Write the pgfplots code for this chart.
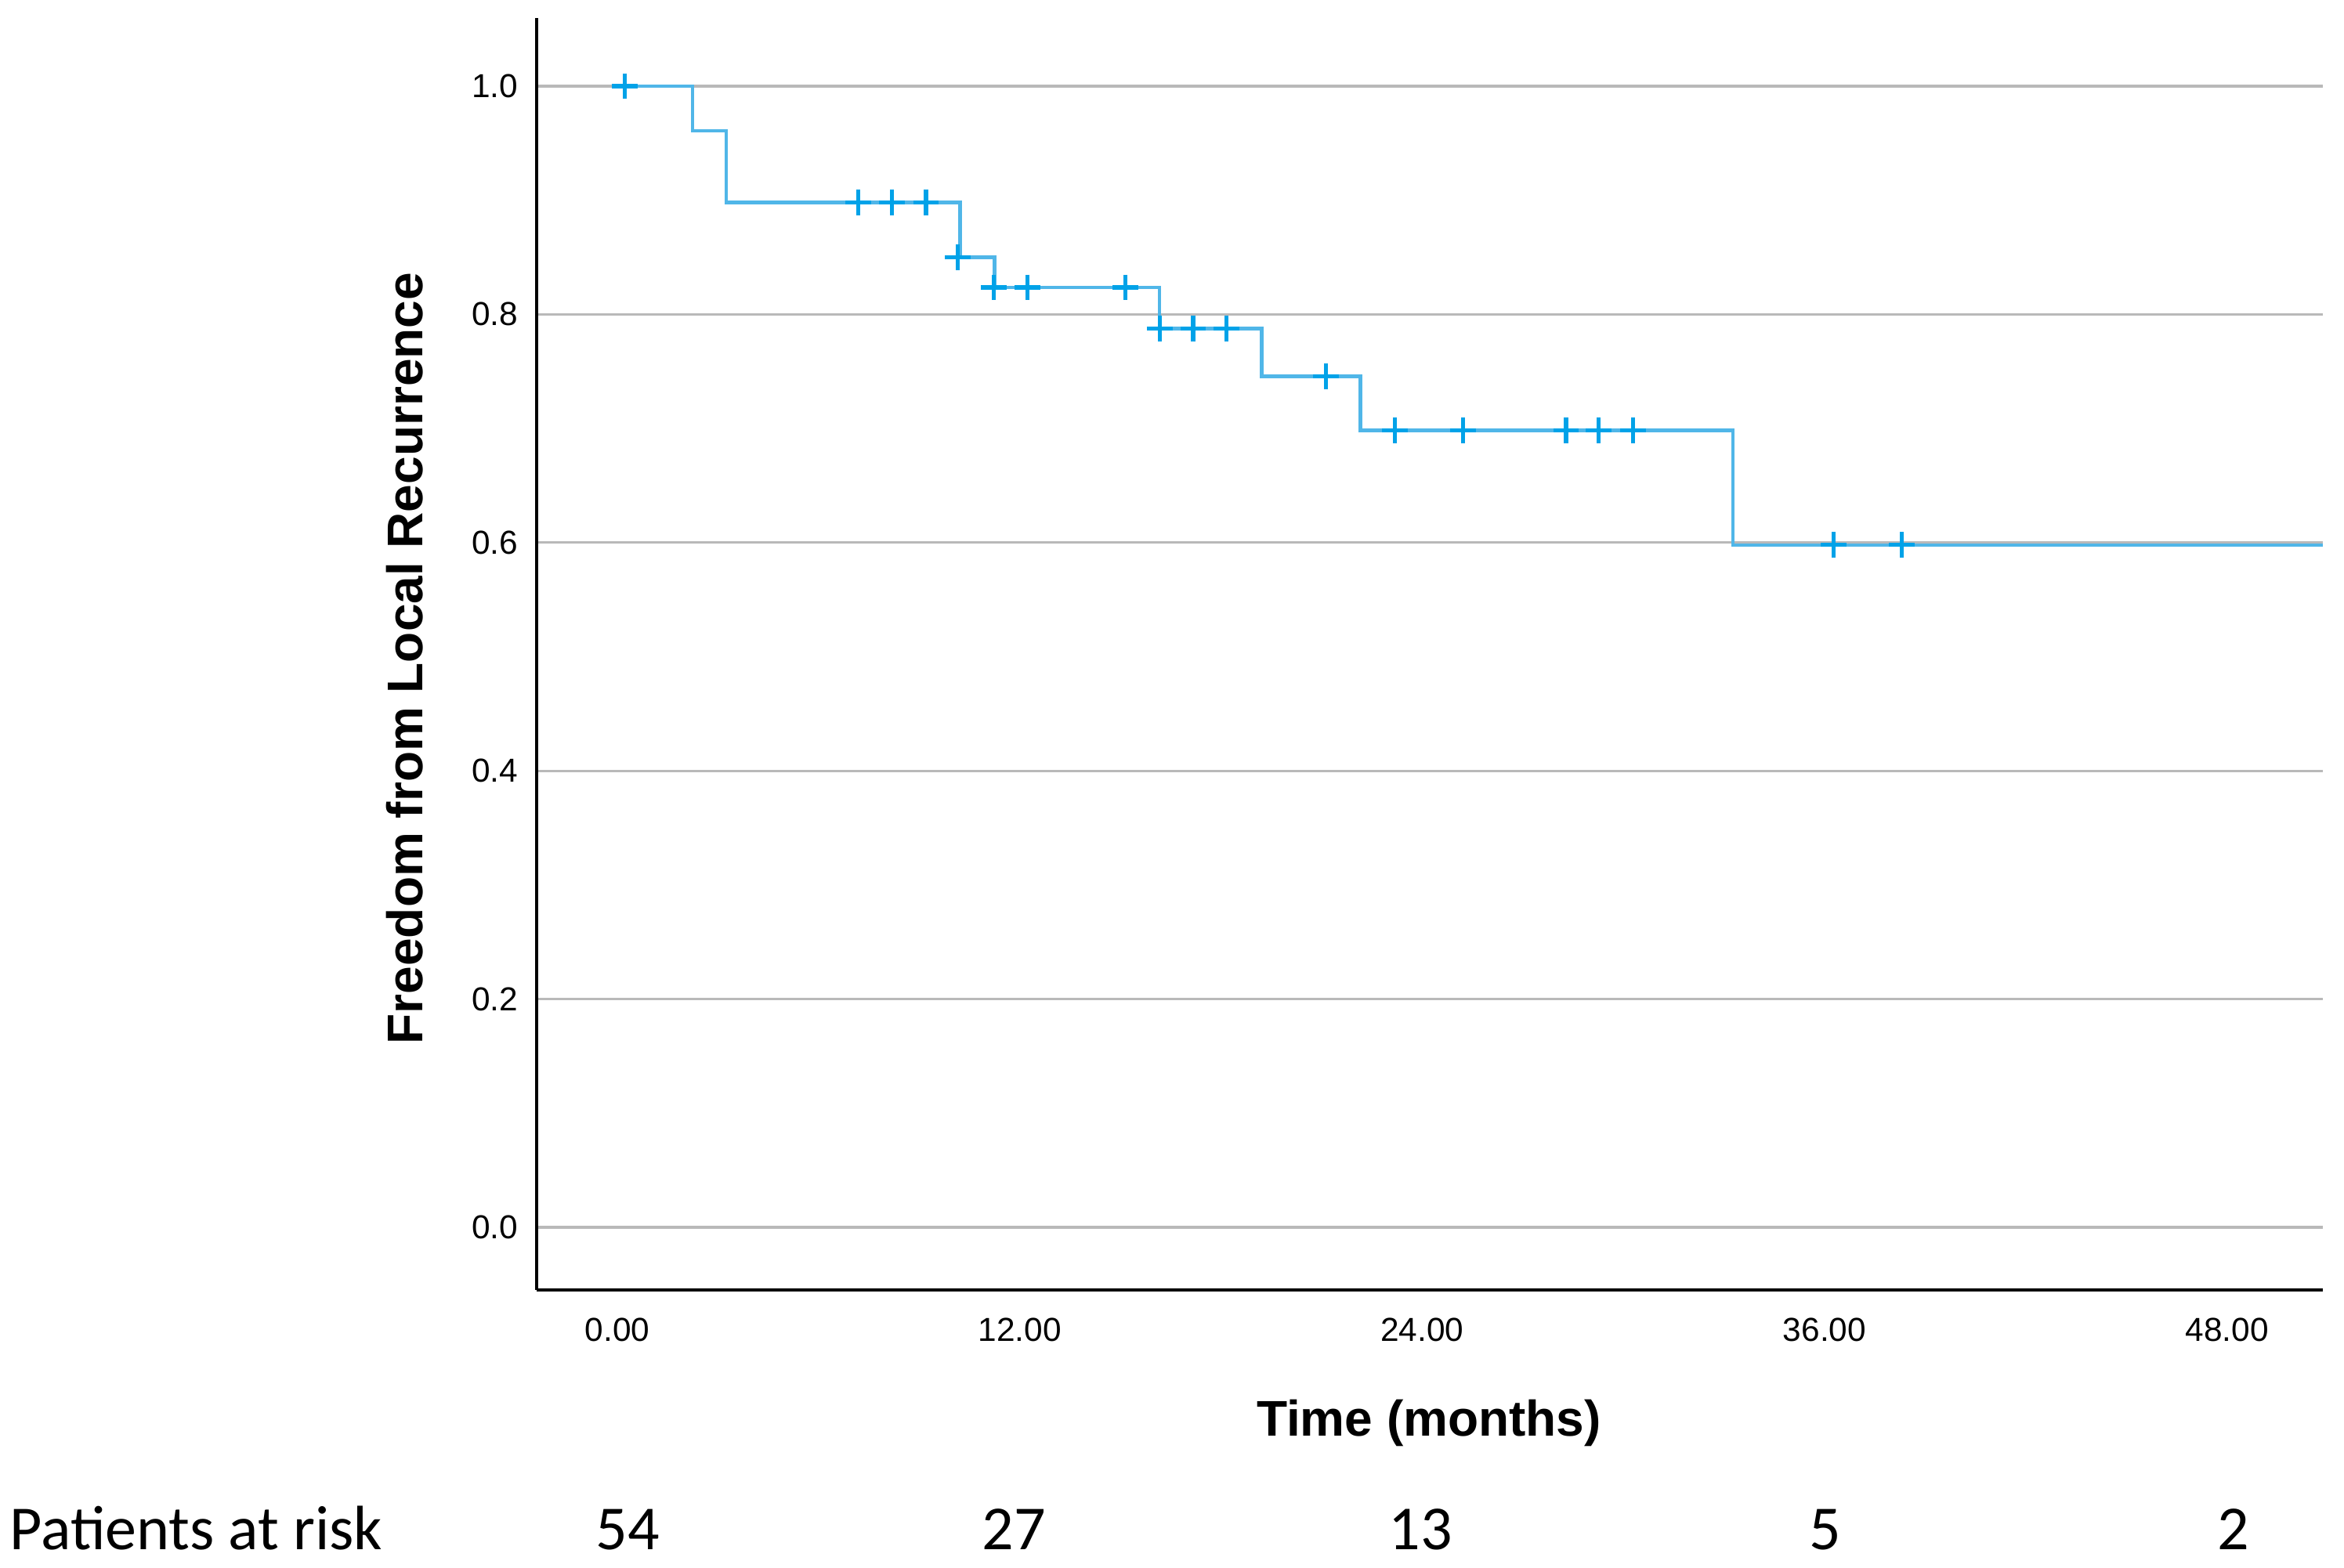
\documentclass[border=0pt]{standalone}
\usepackage{fontspec}
\setmainfont{Liberation Sans}
\newfontfamily\calibri{Carlito}
\usepackage{pgfplots}
\pgfplotsset{compat=1.18}
\definecolor{kmline}{RGB}{80,182,232}
\definecolor{kmmark}{RGB}{0,162,232}
\definecolor{gridgray}{RGB}{185,185,185}
\begin{document}
\begin{tikzpicture}
\path[use as bounding box] (-171.25bp,-88.75bp) rectangle (576.75bp,411.75bp);
\begin{axis}[
  at={(0,0)}, anchor=south west,
  width=570bp, height=406bp, scale only axis,
  xmin=-2.41, xmax=50.86, ymin=-0.0549, ymax=1.0597,
  axis x line*=bottom, axis y line*=left,
  axis line style={black, line width=0.9bp},
  xtick={0,12,24,36,48}, xticklabels={0.00,12.00,24.00,36.00,48.00},
  ytick={0,0.2,0.4,0.6,0.8,1.0}, yticklabels={0.0,0.2,0.4,0.6,0.8,1.0},
  major tick length=0pt,
  ymajorgrids, grid style={gridgray, line width=0.8bp},
  tick label style={font=\fontsize{10.6bp}{12bp}\selectfont},
  xticklabel style={anchor=base, inner sep=0pt, yshift=-16.25bp},
  yticklabel style={anchor=east, inner sep=0pt, xshift=-5.8bp},
  clip=false,
]
% Kaplan-Meier step curve
\addplot[const plot, kmline, line width=1.1bp, mark=none] coordinates {
  (0,1.0) (2.24,0.961) (3.25,0.898) (10.22,0.850) (11.25,0.8236)
  (16.17,0.7876) (19.21,0.7458) (22.16,0.6984) (33.27,0.598) (50.86,0.598)
};
% censored observations
\addplot[only marks, mark=+, mark size=4.1bp, mark options={kmmark, line width=1.3bp}] coordinates {
  (0.21,1.0)
  (7.18,0.898) (8.18,0.898) (9.2,0.898)
  (10.15,0.850)
  (11.22,0.8236) (12.22,0.8236) (15.15,0.8236)
  (16.17,0.7876) (17.17,0.7876) (18.17,0.7876)
  (21.12,0.7458)
  (23.19,0.6984) (25.21,0.6984) (28.29,0.6984) (29.26,0.6984) (30.29,0.6984)
  (36.27,0.598) (38.3,0.598)
};
\end{axis}
\node[anchor=base, font=\bfseries\fontsize{16bp}{19bp}\selectfont] at (284.75bp,-46.5bp) {Time (months)};
\node[anchor=base, rotate=90, font=\bfseries\fontsize{16bp}{19bp}\selectfont] at (-36.5bp,201.6bp) {Freedom from Local Recurrence};
\begin{scope}[every node/.style={anchor=base, inner sep=0pt, font=\calibri\fontsize{20bp}{24bp}\selectfont}]
\node[anchor=base west] at (-168.25bp,-82.75bp) {Patients at risk};
\node at (29bp,-82.75bp) {54};
\node at (152.25bp,-82.75bp) {27};
\node at (282bp,-82.75bp) {13};
\node at (411.25bp,-82.75bp) {5};
\node at (541.5bp,-82.75bp) {2};
\end{scope}
\end{tikzpicture}
\end{document}
